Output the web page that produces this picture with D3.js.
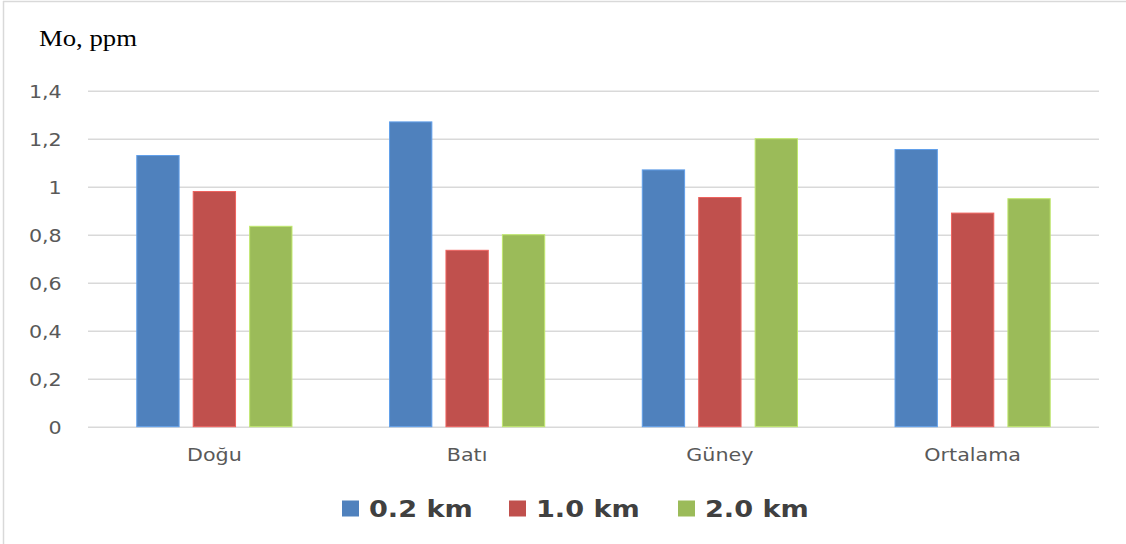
<!DOCTYPE html>
<html>
<head>
<meta charset="utf-8">
<script src="https://cdn.jsdelivr.net/npm/d3@7"></script>
<style>
  html, body { margin: 0; padding: 0; background: #fff; }
  svg { display: block; }
</style>
</head>
<body>
<svg id="chart" width="1126" height="544"></svg>
<script>
// Molybdenum concentrations by direction and distance
const categories = ["Doğu", "Batı", "Güney", "Ortalama"];
const seriesNames = ["0.2 km", "1.0 km", "2.0 km"];
const values02 = [1.13, 1.27, 1.07, 1.155];
const values10 = [0.98, 0.735, 0.955, 0.89];
const values20 = [0.835, 0.80, 1.20, 0.95];
const yTicks = [0, 0.2, 0.4, 0.6, 0.8, 1, 1.2, 1.4];
const colors = ["#4F81BD", "#C0504D", "#9BBB59"];

const seriesValues = [values02, values10, values20];
const rows = categories.map((c, i) => ({
  cat: c,
  vals: seriesNames.map((s, j) => ({ key: s, idx: j, value: seriesValues[j][i] }))
}));

const svg = d3.select("#chart");
const W = 1126, H = 544;
const STRETCH = 1.18;           // horizontal widening of text
const margin = { top: 90.7, right: 27, bottom: 117.3, left: 88 };
const plotW = W - margin.left - margin.right;
const plotH = H - margin.top - margin.bottom;

// frame (left and top edges)
svg.append("line").attr("x1", 3.5).attr("x2", 3.5).attr("y1", 1).attr("y2", H)
  .attr("stroke", "#d9d9d9").attr("stroke-width", 1.5);
svg.append("line").attr("x1", 3).attr("x2", W).attr("y1", 1.5).attr("y2", 1.5)
  .attr("stroke", "#d9d9d9").attr("stroke-width", 1.5);

const g = svg.append("g").attr("transform", `translate(${margin.left},${margin.top})`);

const y = d3.scaleLinear().domain([0, 1.4]).range([plotH, 0]);
const x0 = d3.scaleBand().domain(categories).range([0, plotW]).paddingInner(0).paddingOuter(0);
const groupW = x0.bandwidth() * 0.614;
const x1 = d3.scaleBand().domain(seriesNames)
  .range([(x0.bandwidth() - groupW) / 2, (x0.bandwidth() + groupW) / 2])
  .paddingInner(0.25).paddingOuter(0);

// gridlines
const yAxis = d3.axisLeft(y).tickValues(yTicks).tickSize(-plotW).tickPadding(0)
  .tickFormat(d => d3.format("")(d).replace(".", ","));
const ya = g.append("g").call(yAxis);
ya.select(".domain").remove();
ya.selectAll(".tick line").attr("stroke", "#d9d9d9").attr("stroke-width", 1.6);
ya.selectAll(".tick text").remove();

// y tick labels
ya.selectAll(".tick").append("text")
  .attr("transform", `translate(${61.7 - margin.left},6.5) scale(${STRETCH},1)`)
  .attr("text-anchor", "end")
  .attr("fill", "#595959")
  .attr("font-family", "DejaVu Sans, Verdana, sans-serif")
  .attr("font-size", 17.5)
  .text(d => d3.format("")(d).replace(".", ","));

// bars
const groups = g.selectAll(".grp").data(rows).join("g")
  .attr("class", "grp")
  .attr("transform", d => `translate(${x0(d.cat)},0)`);

groups.selectAll("rect").data(d => d.vals).join("rect")
  .attr("x", d => x1(d.key))
  .attr("width", x1.bandwidth())
  .attr("y", d => y(d.value))
  .attr("height", d => y(0) - y(d.value))
  .attr("fill", d => colors[d.idx])
  .attr("stroke", d => d3.color(colors[d.idx]).brighter(0.6))
  .attr("stroke-width", 1);

// category labels
g.selectAll(".cat").data(categories).join("text")
  .attr("class", "cat")
  .attr("transform", d => `translate(${x0(d) + x0.bandwidth() / 2},${461 - margin.top}) scale(${STRETCH},1)`)
  .attr("text-anchor", "middle")
  .attr("fill", "#595959")
  .attr("font-family", "DejaVu Sans, Verdana, sans-serif")
  .attr("font-size", 17.5)
  .text(d => d);

// axis title
svg.append("text")
  .attr("x", 39).attr("y", 46)
  .attr("fill", "#000")
  .attr("font-family", "Liberation Serif, serif")
  .attr("font-size", 24)
  .attr("textLength", 98)
  .attr("lengthAdjust", "spacingAndGlyphs")
  .text("Mo, ppm");

// legend
const legendX = [342, 509, 678];
const leg = svg.selectAll(".leg").data(seriesNames).join("g")
  .attr("class", "leg")
  .attr("transform", (d, i) => `translate(${legendX[i]},0)`);
leg.append("rect")
  .attr("x", 0).attr("y", 500.5).attr("width", 17).attr("height", 16)
  .attr("fill", (d, i) => colors[i]);
leg.append("text")
  .attr("transform", `translate(27,517.3) scale(${STRETCH},1)`)
  .attr("fill", "#404040")
  .attr("font-family", "DejaVu Sans, Verdana, sans-serif")
  .attr("font-weight", "bold")
  .attr("font-size", 23)
  .text(d => d);
</script>
</body>
</html>
